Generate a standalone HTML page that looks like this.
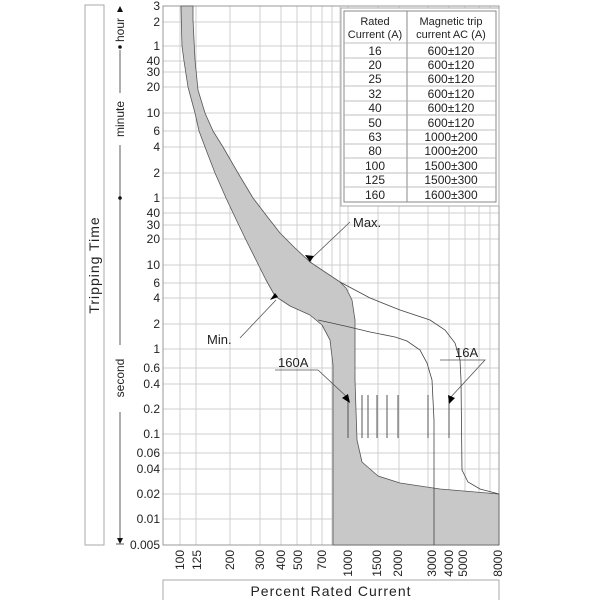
<!DOCTYPE html>
<html><head><meta charset="utf-8"><style>
html,body{margin:0;padding:0;background:#fff;}
svg{display:block;font-family:"Liberation Sans",sans-serif;}
</style></head><body>
<svg width="600" height="600" viewBox="0 0 600 600" xmlns="http://www.w3.org/2000/svg">
<rect width="600" height="600" fill="#fff"/>
<g stroke="#cfcfcf" stroke-width="1">
<line x1="163" y1="6" x2="499" y2="6"/><line x1="163" y1="22" x2="499" y2="22"/><line x1="163" y1="46" x2="499" y2="46"/><line x1="163" y1="61" x2="499" y2="61"/><line x1="163" y1="72" x2="499" y2="72"/><line x1="163" y1="87" x2="499" y2="87"/><line x1="163" y1="113" x2="499" y2="113"/><line x1="163" y1="131" x2="499" y2="131"/><line x1="163" y1="147" x2="499" y2="147"/><line x1="163" y1="173" x2="499" y2="173"/><line x1="163" y1="198" x2="499" y2="198"/><line x1="163" y1="213" x2="499" y2="213"/><line x1="163" y1="225" x2="499" y2="225"/><line x1="163" y1="239" x2="499" y2="239"/><line x1="163" y1="265" x2="499" y2="265"/><line x1="163" y1="283" x2="499" y2="283"/><line x1="163" y1="298" x2="499" y2="298"/><line x1="163" y1="324" x2="499" y2="324"/><line x1="163" y1="349" x2="499" y2="349"/><line x1="163" y1="368" x2="499" y2="368"/><line x1="163" y1="384" x2="499" y2="384"/><line x1="163" y1="409" x2="499" y2="409"/><line x1="163" y1="434" x2="499" y2="434"/><line x1="163" y1="453" x2="499" y2="453"/><line x1="163" y1="469" x2="499" y2="469"/><line x1="163" y1="494" x2="499" y2="494"/><line x1="163" y1="519" x2="499" y2="519"/>
<line x1="180" y1="6" x2="180" y2="545"/><line x1="196" y1="6" x2="196" y2="545"/><line x1="230" y1="6" x2="230" y2="545"/><line x1="260" y1="6" x2="260" y2="545"/><line x1="281" y1="6" x2="281" y2="545"/><line x1="297" y1="6" x2="297" y2="545"/><line x1="311" y1="6" x2="311" y2="545"/><line x1="322" y1="6" x2="322" y2="545"/><line x1="332" y1="6" x2="332" y2="545"/><line x1="340" y1="6" x2="340" y2="545"/><line x1="348" y1="6" x2="348" y2="545"/><line x1="378" y1="6" x2="378" y2="545"/><line x1="399" y1="6" x2="399" y2="545"/><line x1="428" y1="6" x2="428" y2="545"/><line x1="449" y1="6" x2="449" y2="545"/><line x1="465" y1="6" x2="465" y2="545"/><line x1="479" y1="6" x2="479" y2="545"/><line x1="490" y1="6" x2="490" y2="545"/>
</g>
<rect x="163" y="6" width="336" height="539" fill="none" stroke="#999" stroke-width="1"/>
<path d="M181,6 L181.5,30 L182,46 L184,61 L188,87 L195,113 L199,131 L205,147 L215,173 L226,198 L234,215 L245,238 L256,260 L266,280 L275,296 L290,306 L310,315 L322,325 L330,340 L333,365 L333,545 L499,545 L499,494 L440,489 L400,483 L378,476 L362,462 L357,440 L355,380 L355,320 L352,300 L346,288 L340,282 L325,272 L310,262 L295,248 L280,233 L266,215 L253,198 L238,173 L223,147 L213,131 L205,113 L198,90 L195,60 L194,40 L193,20 L193,6 Z" fill="#c8c8c8" stroke="#555" stroke-width="0.8" stroke-linejoin="round"/>
<path d="M340,282 L370,298 L400,310 L430,320 L445,330 L455,343 L460,360 L461,380 L462,470 L468,482 L480,489 L499,494" fill="none" stroke="#444" stroke-width="0.8"/>
<path d="M318,320 L345,326 L370,332 L395,337 L407,341 L420,350 L427,363 L432,380 L434,420 L434,545" fill="none" stroke="#444" stroke-width="0.8"/>
<g stroke="#555" stroke-width="1">
<line x1="362" y1="395" x2="362" y2="438"/><line x1="368" y1="395" x2="368" y2="438"/><line x1="377" y1="395" x2="377" y2="438"/><line x1="387" y1="395" x2="387" y2="438"/><line x1="398" y1="395" x2="398" y2="438"/><line x1="428" y1="395" x2="428" y2="438"/><line x1="449" y1="400" x2="449" y2="438"/><line x1="348" y1="400" x2="348" y2="438"/>
</g>
<g stroke="#555" stroke-width="0.8" fill="none">
<line x1="350" y1="222" x2="312" y2="258"/>
<line x1="240" y1="338" x2="276" y2="300"/>
<polyline points="275,370 318,370 348,398"/>
<polyline points="450,398 485,360 440,360"/>
</g>
<g fill="#000">
<polygon points="310,262 305,255 314,256"/>
<polygon points="278,297 270,300 275,293"/>
<polygon points="350,403 342,398 348,394"/>
<polygon points="449,404 448,395 455,398"/>
</g>
<g font-size="13" fill="#222">
<text x="353" y="227">Max.</text>
<text x="207" y="344">Min.</text>
<text x="278" y="367">160A</text>
<text x="455" y="357">16A</text>
</g>
<g font-size="12" fill="#222" text-anchor="end">
<text x="160" y="10">3</text><text x="160" y="26">2</text><text x="160" y="50">1</text><text x="160" y="65">40</text><text x="160" y="76">30</text><text x="160" y="91">20</text><text x="160" y="117">10</text><text x="160" y="135">6</text><text x="160" y="151">4</text><text x="160" y="177">2</text><text x="160" y="202">1</text><text x="160" y="217">40</text><text x="160" y="229">30</text><text x="160" y="243">20</text><text x="160" y="269">10</text><text x="160" y="287">6</text><text x="160" y="302">4</text><text x="160" y="328">2</text><text x="160" y="353">1</text><text x="160" y="372">0.6</text><text x="160" y="388">0.4</text><text x="160" y="413">0.2</text><text x="160" y="438">0.1</text><text x="160" y="457">0.06</text><text x="160" y="473">0.04</text><text x="160" y="498">0.02</text><text x="160" y="523">0.01</text><text x="160" y="549">0.005</text>
</g>
<g font-size="12" fill="#222" text-anchor="end">
<text transform="translate(184,550) rotate(-90)">100</text><text transform="translate(201,550) rotate(-90)">125</text><text transform="translate(234,550) rotate(-90)">200</text><text transform="translate(264,550) rotate(-90)">300</text><text transform="translate(285,550) rotate(-90)">400</text><text transform="translate(302,550) rotate(-90)">500</text><text transform="translate(326,550) rotate(-90)">700</text><text transform="translate(352,550) rotate(-90)">1000</text><text transform="translate(381,550) rotate(-90)">1500</text><text transform="translate(402,550) rotate(-90)">2000</text><text transform="translate(436,550) rotate(-90)">3000</text><text transform="translate(453,550) rotate(-90)">4000</text><text transform="translate(467,550) rotate(-90)">5000</text><text transform="translate(502,550) rotate(-90)">8000</text>
</g>
<rect x="163" y="580" width="336" height="22" fill="#fff" stroke="#aaa"/>
<text x="331" y="596" font-size="14" text-anchor="middle" fill="#222" letter-spacing="1">Percent Rated Current</text>
<rect x="85" y="5" width="19" height="540" fill="#fff" stroke="#aaa"/>
<text transform="translate(99,265) rotate(-90)" font-size="14" text-anchor="middle" fill="#222" letter-spacing="1">Tripping Time</text>
<g stroke="#333" stroke-width="0.8">
<line x1="120" y1="8" x2="120" y2="12"/><line x1="120" y1="50" x2="120" y2="93"/><line x1="120" y1="145" x2="120" y2="345"/><line x1="120" y1="412" x2="120" y2="541"/>
<line x1="116" y1="544" x2="124" y2="544"/>
</g>
<polygon points="120,6 117,12 123,12" fill="#111"/>
<polygon points="120,544 117,538 123,538" fill="#111"/>
<circle cx="120" cy="47" r="1.8" fill="#111"/><circle cx="120" cy="198" r="1.8" fill="#111"/>
<g font-size="12" fill="#222" text-anchor="middle">
<text transform="translate(124,30) rotate(-90)">hour</text>
<text transform="translate(124,119) rotate(-90)">minute</text>
<text transform="translate(124,378) rotate(-90)">second</text>
</g>
<g>
<rect x="341" y="8" width="158" height="198" fill="#fff" stroke="#aaa"/>
<rect x="344" y="11" width="152" height="191" fill="#fff" stroke="#888"/>
<line x1="407" y1="11" x2="407" y2="202" stroke="#888"/>
<g stroke="#aaa" stroke-width="0.8">
<line x1="344" y1="43" x2="496" y2="43"/><line x1="344" y1="58" x2="496" y2="58"/><line x1="344" y1="72" x2="496" y2="72"/><line x1="344" y1="86" x2="496" y2="86"/><line x1="344" y1="101" x2="496" y2="101"/><line x1="344" y1="115" x2="496" y2="115"/><line x1="344" y1="130" x2="496" y2="130"/><line x1="344" y1="144" x2="496" y2="144"/><line x1="344" y1="158" x2="496" y2="158"/><line x1="344" y1="173" x2="496" y2="173"/><line x1="344" y1="187" x2="496" y2="187"/>
</g>
<g font-size="11" fill="#222" text-anchor="middle">
<text x="375" y="25">Rated</text><text x="375" y="38">Current (A)</text>
<text x="451" y="25">Magnetic trip</text><text x="451" y="38">current AC (A)</text>
</g>
<g font-size="12" fill="#222" text-anchor="middle">
<text x="375" y="55">16</text><text x="375" y="69">20</text><text x="375" y="83">25</text><text x="375" y="98">32</text><text x="375" y="112">40</text><text x="375" y="127">50</text><text x="375" y="141">63</text><text x="375" y="155">80</text><text x="375" y="170">100</text><text x="375" y="184">125</text><text x="375" y="199">160</text>
<text x="451" y="55">600±120</text><text x="451" y="69">600±120</text><text x="451" y="83">600±120</text><text x="451" y="98">600±120</text><text x="451" y="112">600±120</text><text x="451" y="127">600±120</text><text x="451" y="141">1000±200</text><text x="451" y="155">1000±200</text><text x="451" y="170">1500±300</text><text x="451" y="184">1500±300</text><text x="451" y="199">1600±300</text>
</g>
</g>
</svg>
</body></html>
